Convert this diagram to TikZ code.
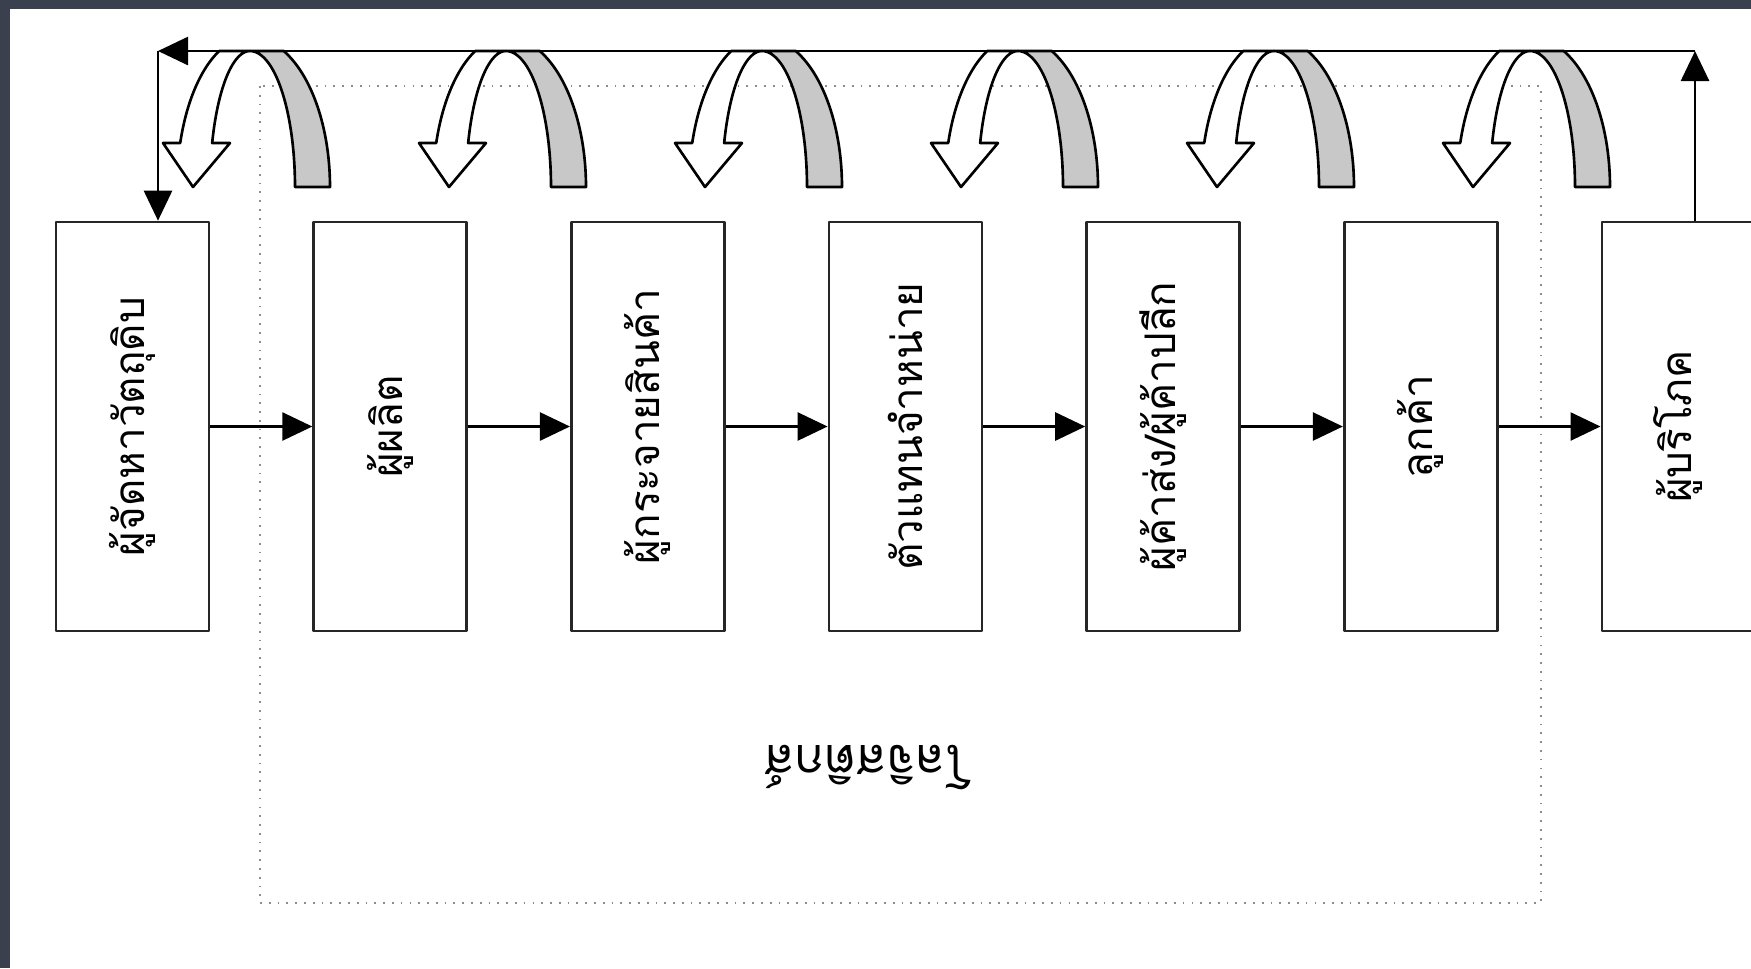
\documentclass[tikz,border=0pt]{standalone}
\usepackage{fontspec}
\usepackage{graphicx}
\usetikzlibrary{positioning, arrows.meta}
\newfontfamily\thaifont[Script=Thai]{Loma}
\definecolor{bgdark}{HTML}{3B404E}
\definecolor{arcgrey}{HTML}{C8C8C8}

\tikzset{
  uturn/.pic={
    % shaded back of the curved arrow
    \filldraw[fill=arcgrey] (45,0) -- (80,0)
      -- plot[domain=0:65.06, samples=30] ({80*cos(\x)},{-150*sin(\x)})
      -- (0,-136)
      -- plot[domain=90:0, samples=30] ({45*cos(\x)},{-136*sin(\x)}) -- cycle;
    % white front with its head
    \filldraw[fill=white] (0,-136)
      -- plot[domain=90:18.88, samples=30] ({-40*cos(\x)},{-136*sin(\x)})
      -- (-20,-44) -- (-57,0) -- (-87,-44)
      -- plot[domain=17.06:65.06, samples=30] ({-73*cos(\x)},{-150*sin(\x)}) -- cycle;
  }
}

\begin{document}
\begin{tikzpicture}[x=0.1mm, y=-0.1mm, >={Triangle[length=3mm, width=2.8mm]},
    node distance=10.2mm, line width=0.75pt, line join=round,
    stage/.style={draw=black!85, fill=white, minimum width=15.3mm, minimum height=40.9mm,
      inner sep=0pt, font=\thaifont\fontsize{12}{14}\selectfont},
    frame/.style={draw=black!45, line width=0.5pt, dotted}]
  \fill[bgdark] (0,0) rectangle (1751,968);
  \fill[white] (10,9) rectangle (1751,968);
  \useasboundingbox (0,0) rectangle (1751,968);

  \draw[frame] (260,86) rectangle (1541,903);
  \node[font=\thaifont\fontsize{14}{16}\selectfont, rotate=180] (lbl) at (868,767) {โลจิสติกส์};

  \node[stage] (sup) at (132.5,426.5) {\rotatebox{90}{ผู้จัดหาวัตถุดิบ}};
  \node[stage, right=of sup] (mfr) {\rotatebox{90}{ผู้ผลิต}};
  \node[stage, right=of mfr] (dist) {\rotatebox{90}{ผู้กระจายสินค้า}};
  \node[stage, right=of dist] (agent) {\rotatebox{90}{ตัวแทนจำหน่าย}};
  \node[stage, right=of agent] (trade) {\rotatebox{90}{ผู้ค้าส่ง/ผู้ค้าปลีก}};
  \node[stage, right=of trade] (cust) {\rotatebox{90}{ลูกค้า}};
  \node[stage, right=of cust] (cons) {\rotatebox{90}{ผู้บริโภค}};

  \path (sup) edge[->] (mfr)
    (mfr) edge[->] (dist)
    (dist) edge[->] (agent)
    (agent) edge[->] (trade)
    (trade) edge[->] (cust)
    (cust) edge[->] (cons);

  % curved arrows over the gaps
  \foreach \cx in {250,506,762,1018,1274,1530}
    \pic at (\cx,187) {uturn};

  % feedback over the top
  \coordinate (tr) at (1695,51);
  \coordinate (tl) at (158,51);
  \draw[->] (tr |- cons.north) -- (tr);
  \draw[->] (tr) -- (tl);
  \draw[->] (tl) -- (tl |- sup.north);
\end{tikzpicture}
\end{document}
